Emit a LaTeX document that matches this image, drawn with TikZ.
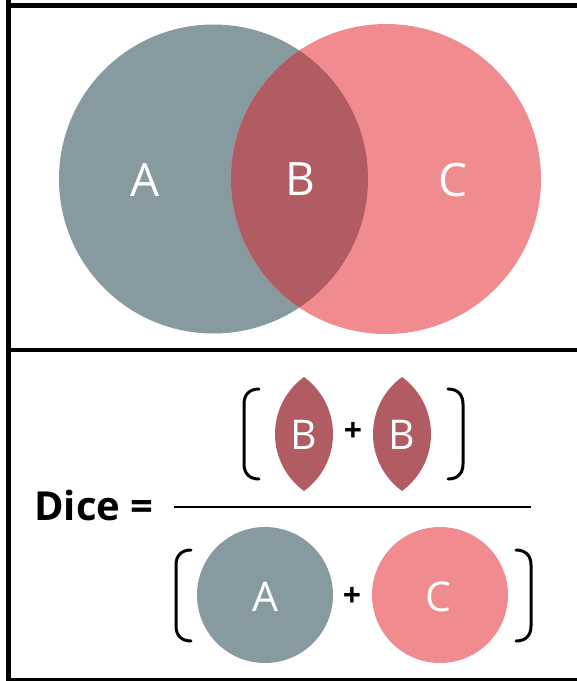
\documentclass[tikz,border=0pt]{standalone}
\usepackage{fontspec}
\setmainfont{Open Sans}
\definecolor{cA}{RGB}{135,154,160}
\definecolor{cC}{RGB}{240,139,143}
\definecolor{cB}{RGB}{177,92,99}
\begin{document}
\begin{tikzpicture}[x=1pt,y=-1pt,
  frameline/.style={line width=5pt,black},
  bracket/.style={line width=3pt,black,line cap=round},
  biglbl/.style={text=white,inner sep=0pt,font=\fontsize{46}{46}\selectfont},
  smalllbl/.style={text=white,inner sep=0pt,font=\fontsize{41}{41}\selectfont},
  plussign/.style={inner sep=0pt,font=\bfseries\fontsize{32}{32}\selectfont},
  dicelbl/.style={inner sep=0pt,font=\bfseries\fontsize{40}{40}\selectfont}]
\useasboundingbox (0,0) rectangle (577,681);
% frame
\draw[frameline] (8.5,0) -- (8.5,681);
\draw[frameline] (6,5.5) -- (577,5.5);
\draw[line width=4.5pt] (6,350) -- (577,350);
\draw[line width=4pt] (6,680) -- (577,680);
% Venn
\fill[cA] (213.5,179) circle[radius=154.5pt];
\fill[cC] (386,179) circle[radius=155pt];
\begin{scope}
  \clip (213.5,179) circle[radius=154.5pt];
  \fill[cB] (386,179) circle[radius=155pt];
\end{scope}
\node[biglbl] (la) at (145,180) {A};
\node[biglbl] (lb) at (300,179) {B};
\node[biglbl] (lc) at (453,180) {C};
% Dice label
\node[dicelbl,anchor=base west] (dice) at (34,520) {Dice =};
\draw[line width=2.5pt] (174,507) -- (531,507);
% numerator lenses
\begin{scope}
  \clip (345.5,434) circle[radius=70.5pt];
  \fill[cB] (262.5,434) circle[radius=70.5pt];
\end{scope}
\begin{scope}
  \clip (443.5,434) circle[radius=70.5pt];
  \fill[cB] (360.5,434) circle[radius=70.5pt];
\end{scope}
\node[smalllbl] (nb1) at (304,435) {B};
\node[smalllbl] (nb2) at (402,435) {B};
\node[plussign] (np) at (353,432) {+};
% numerator brackets
\draw[bracket] (259,389) .. controls (249,389) and (244,395) .. (244,404) -- (244,464) .. controls (244,473) and (249,479) .. (259,479);
\draw[bracket] (448,389) .. controls (458,389) and (463,395) .. (463,404) -- (463,464) .. controls (463,473) and (458,479) .. (448,479);
% denominator
\fill[cA] (265,595) circle[radius=68pt];
\fill[cC] (440,595) circle[radius=68pt];
\node[smalllbl] (da) at (265,597) {A};
\node[smalllbl] (dc) at (438,597) {C};
\node[plussign] (dp) at (352,597) {+};
\draw[bracket] (191,550) .. controls (181,550) and (176,556) .. (176,565) -- (176,626) .. controls (176,635) and (181,641) .. (191,641);
\draw[bracket] (516,550) .. controls (526,550) and (531,556) .. (531,565) -- (531,626) .. controls (531,635) and (526,641) .. (516,641);
\end{tikzpicture}
\end{document}
